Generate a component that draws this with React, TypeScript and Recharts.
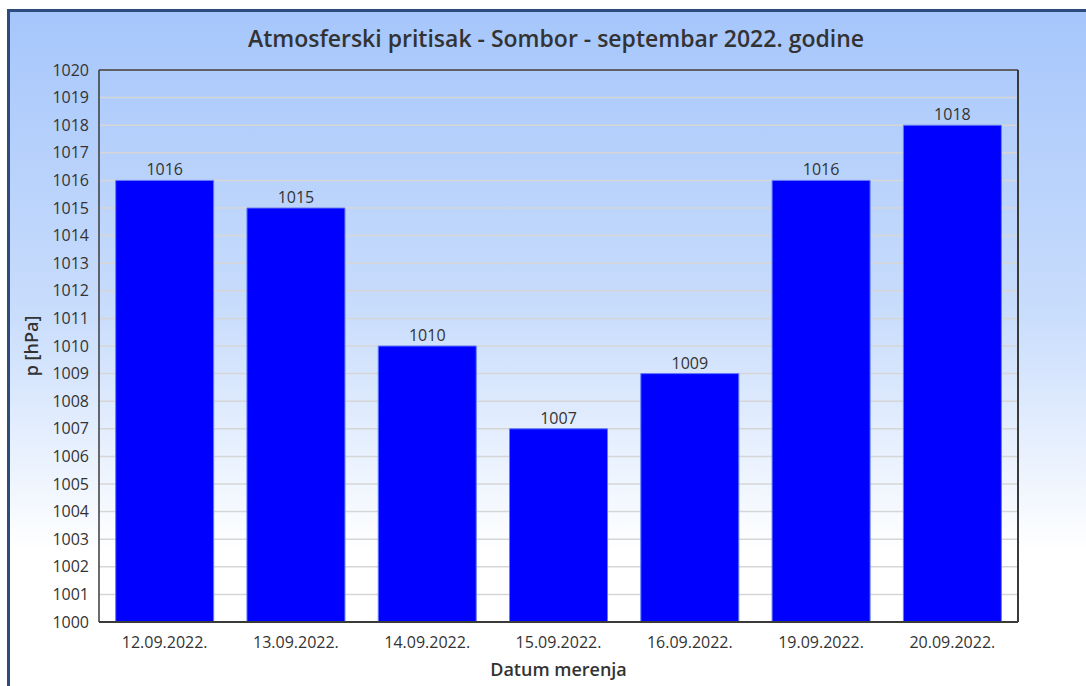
import { BarChart, Bar, XAxis, YAxis, CartesianGrid, LabelList, Label } from "recharts";

const datumi = ["12.09.2022.", "13.09.2022.", "14.09.2022.", "15.09.2022.", "16.09.2022.", "19.09.2022.", "20.09.2022."];
const pritisak = [1016, 1015, 1010, 1007, 1009, 1016, 1018];
const yTicks = [
  1000, 1001, 1002, 1003, 1004, 1005, 1006, 1007, 1008, 1009, 1010,
  1011, 1012, 1013, 1014, 1015, 1016, 1017, 1018, 1019, 1020,
];

const FONT = "'Open Sans', 'DejaVu Sans', sans-serif";
const TEXT = "#333333";
const AXIS = "#3a3a3a";

const data = datumi.map((d, i) => ({ datum: d, p: pritisak[i] }));

export default function App() {
  return (
    <div
      style={{
        position: "absolute",
        left: 7,
        top: 9,
        width: 1076,
        height: 674,
        borderLeft: "3px solid #2d4c7c",
        borderTop: "3px solid #2d4c7c",
        background: "linear-gradient(#a6c6fb 0%, #c9ddfc 45%, #ffffff 80%, #ffffff 100%)",
        fontFamily: FONT,
        overflow: "hidden",
      }}
    >
      <div
        style={{
          position: "absolute",
          left: 0,
          top: 10,
          width: 1092,
          textAlign: "center",
          fontSize: 23,
          fontWeight: 600,
          color: TEXT,
        }}
      >
        Atmosferski pritisak - Sombor - septembar 2022. godine
      </div>
      <BarChart
        width={1076}
        height={674}
        data={data}
        margin={{ top: 57, right: 67, bottom: 24, left: 29 }}
        barCategoryGap="12.7%"
        style={{ fontFamily: FONT }}
      >
        <CartesianGrid vertical={false} stroke="#d6d6d6" strokeWidth={1.5} />
        <XAxis
          dataKey="datum"
          height={40}
          tickLine={false}
          tickSize={6}
          tickMargin={9}
          axisLine={{ stroke: AXIS, strokeWidth: 2 }}
          tick={{ fill: TEXT, fontSize: 16 }}
        >
          <Label
            value="Datum merenja"
            position="insideBottom"
            offset={-14}
            style={{ fill: TEXT, fontSize: 18, fontWeight: 600 }}
          />
        </XAxis>
        <XAxis
          xAxisId="top"
          orientation="top"
          dataKey="datum"
          height={1}
          tick={false}
          tickLine={false}
          axisLine={{ stroke: AXIS, strokeWidth: 1.5 }}
        />
        <YAxis
          width={60}
          domain={[1000, 1020]}
          ticks={yTicks}
          interval={0}
          allowDecimals={false}
          tickLine={false}
          tickSize={6}
          tickMargin={4}
          axisLine={{ stroke: AXIS, strokeWidth: 1.5 }}
          tick={{ fill: TEXT, fontSize: 16 }}
        >
          <Label
            value="p [hPa]"
            angle={-90}
            position="insideLeft"
            offset={-7}
            style={{ fill: TEXT, fontSize: 18, fontWeight: 600, textAnchor: "middle" }}
          />
        </YAxis>
        <YAxis
          yAxisId="right"
          orientation="right"
          width={1}
          domain={[1000, 1020]}
          tick={false}
          tickLine={false}
          axisLine={{ stroke: AXIS, strokeWidth: 2 }}
        />
        <Bar dataKey="p" fill="#0000ff" stroke="#5f7cff" strokeWidth={1} isAnimationActive={false}>
          <LabelList dataKey="p" position="top" offset={5} fill={TEXT} fontSize={16} />
        </Bar>
      </BarChart>
    </div>
  );
}
